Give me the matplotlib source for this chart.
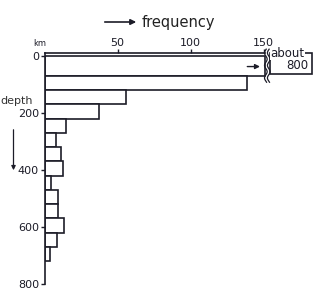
import numpy as np
import matplotlib.pyplot as plt

# depth bins (km) and number of events per bin
depth_edges = [0, 70, 120, 170, 220, 270, 320, 370, 420, 470, 520, 570, 620, 670, 720]
counts = [800, 139, 56, 37, 15, 8, 11, 13, 4.5, 9, 9.5, 13.5, 8.5, 4]
depth_ticks = [0, 200, 400, 600, 800]
freq_ticks = [50, 100, 150]

break_at = 151      # where the first bar is cut
resume_at = 154.5   # stub of the cut bar after the break
x_max = 183
y_top = -9.5

ink = '#1c1c28'
W, H = 328, 305


def fpx(x, y):
    # pixel position (from top left) -> figure fraction
    return x / W, 1 - y / H


fig = plt.figure(figsize=(W / 100, H / 100), dpi=100)
ax = fig.add_axes([44.5 / W, 1 - 284 / H, (x_max * 1.46) / W, (284 - 53.3) / H])

edges = np.array(depth_edges)
widths = np.minimum(counts, break_at)
ax.barh(edges[:-1], widths, height=np.diff(edges), align='edge',
        facecolor='white', edgecolor=ink, linewidth=1.2)

# piece of the first bar beyond the break
ax.barh(y_top, x_max - resume_at, height=63 - y_top, left=resume_at, align='edge',
        facecolor='white', edgecolor=ink, linewidth=1.2, clip_on=False)

ax.set_xlim(0, x_max)
ax.set_ylim(800, y_top)

for s in ['right', 'bottom']:
    ax.spines[s].set_visible(False)
ax.spines['top'].set_bounds(0, break_at)
for s in ['top', 'left']:
    ax.spines[s].set_color(ink)
    ax.spines[s].set_linewidth(1.2)

ax.xaxis.tick_top()
ax.set_xticks(freq_ticks)
ax.set_yticks(depth_ticks)
ax.tick_params(axis='both', direction='out', length=3, width=1, color=ink,
               labelsize=8, labelcolor=ink, pad=1)

# wavy break marks
yy = np.linspace(-24, 92, 80)
wig = 0.9 * np.sin(yy / 7.0)
for off in [0.6, 2.6]:
    ax.plot(break_at + off + wig, yy, color=ink, lw=0.9, clip_on=False)

ax.annotate('', xy=(break_at - 1.5, 37), xytext=(break_at - 14, 37),
            arrowprops=dict(arrowstyle='-|>', color=ink, lw=1, mutation_scale=7))
ax.text(resume_at + 12, y_top - 1, 'about', fontsize=8.5, color=ink,
        ha='center', va='center',
        bbox=dict(facecolor='white', edgecolor='none', pad=0.3))
ax.text(x_max - 2, 33, '800', fontsize=8.5, color=ink, ha='right', va='center')

# titles and labels around the plot
fig.text(*fpx(40, 43), 'km', fontsize=6, color=ink, ha='center', va='center')
fig.text(*fpx(17, 101), 'depth', fontsize=8, color='#333333', ha='center', va='center')
ax.annotate('', xy=fpx(13.5, 173), xytext=fpx(13.5, 127),
            xycoords='figure fraction', textcoords='figure fraction',
            arrowprops=dict(arrowstyle='-|>', color=ink, lw=0.9, mutation_scale=6))
ax.annotate('', xy=fpx(139, 22), xytext=fpx(102, 22),
            xycoords='figure fraction', textcoords='figure fraction',
            arrowprops=dict(arrowstyle='-|>', color=ink, lw=1.2, mutation_scale=8))
fig.text(*fpx(142, 22), 'frequency', fontsize=10.5, color='#222222', ha='left', va='center')

plt.savefig('out.png', dpi=100)
